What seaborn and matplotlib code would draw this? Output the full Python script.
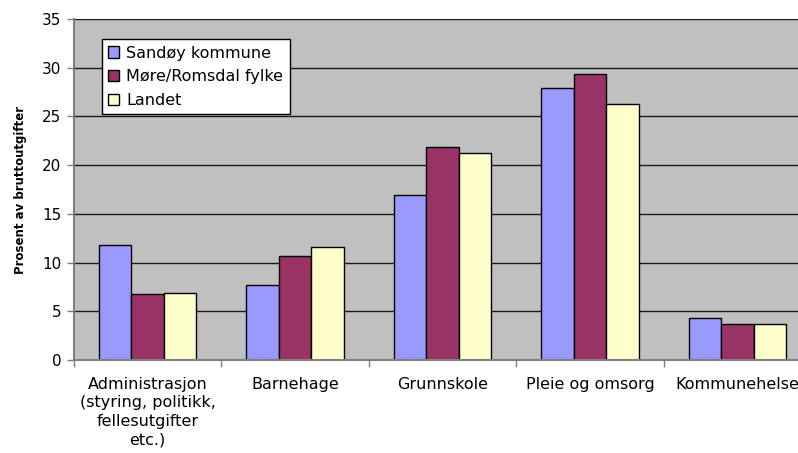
import numpy as np
import pandas as pd
import matplotlib
matplotlib.use("Agg")
import matplotlib.pyplot as plt
import seaborn as sns


# ==========================================
# DATA
# ==========================================

categories = [
    "Administrasjon\n(styring, politikk,\nfellesutgifter\netc.)",
    "Barnehage",
    "Grunnskole",
    "Pleie og omsorg",
    "Kommunehelse",
]

series_names = ["Sandøy kommune", "Møre/Romsdal fylke", "Landet"]

sandoy = [11.8, 7.7, 16.9, 27.9, 4.3]
more_romsdal = [6.8, 10.7, 21.9, 29.4, 3.7]
landet = [6.9, 11.6, 21.2, 26.3, 3.7]

y_ticks = [0, 5, 10, 15, 20, 25, 30, 35]

colors = ["#9999FF", "#993366", "#FFFFCC"]


# ==========================================
# LONG TABLE FOR SEABORN
# ==========================================

df = pd.DataFrame({
    "kategori": categories * 3,
    "serie": np.repeat(series_names, len(categories)),
    "verdi": sandoy + more_romsdal + landet,
})


# ==========================================
# PLOT
# ==========================================

sns.set_style("white")
plt.rcParams["font.family"] = ["DejaVu Sans"]
plt.rcParams["text.color"] = "black"
plt.rcParams["xtick.labelcolor"] = "black"
plt.rcParams["ytick.labelcolor"] = "black"
plt.rcParams["axes.labelcolor"] = "black"

fig = plt.figure(figsize=(7.98, 4.53), dpi=100)
ax = fig.add_axes([74 / 798, 93 / 453, 737 / 798, 341 / 453])
ax.set_facecolor("#C0C0C0")

sns.barplot(
    data=df,
    x="kategori",
    y="verdi",
    hue="serie",
    order=categories,
    hue_order=series_names,
    palette=colors,
    width=0.66,
    gap=0,
    edgecolor="black",
    linewidth=1.0,
    saturation=1,
    errorbar=None,
    ax=ax,
)

ax.set_xlim(-0.5, len(categories) - 0.5)
ax.set_ylim(0, 35)
ax.set_yticks(y_ticks)
ax.yaxis.grid(True, color="#1a1a1a", linewidth=1.0)
ax.set_axisbelow(True)

for side in ["top", "right"]:
    ax.spines[side].set_visible(False)
ax.spines["left"].set_color("#808080")
ax.spines["left"].set_linewidth(1.5)
ax.spines["bottom"].set_color("#808080")
ax.spines["bottom"].set_linewidth(1.5)
ax.axhline(35, color="#808080", linewidth=1.5, zorder=0)

ax.set_xlabel("")
ax.set_ylabel("Prosent av bruttoutgifter", fontsize=8.5, fontweight="bold", labelpad=11, color="black")

ax.tick_params(axis="y", labelsize=11, length=5, width=1, color="#808080", pad=4, direction="out", left=True)
ax.tick_params(axis="x", which="major", labelsize=11.5, length=0, pad=12)
ax.set_xticks(np.arange(-0.5, len(categories)), minor=True)
ax.tick_params(axis="x", which="minor", length=5, width=1, color="#808080", direction="out", bottom=True)

for lab in ax.get_xticklabels():
    lab.set_linespacing(1.3)

leg = ax.legend(
    loc="upper left",
    bbox_to_anchor=(0.0376, 0.941),
    borderaxespad=0,
    fontsize=11.5,
    frameon=True,
    fancybox=False,
    edgecolor="black",
    facecolor="white",
    framealpha=1,
    handlelength=0.7,
    handleheight=0.7,
    handletextpad=0.45,
    labelspacing=0.55,
    borderpad=0.4,
    title=None,
)
leg.get_frame().set_linewidth(1.0)
for t in leg.get_texts():
    t.set_color("black")

fig.savefig("out.png", dpi=100)
